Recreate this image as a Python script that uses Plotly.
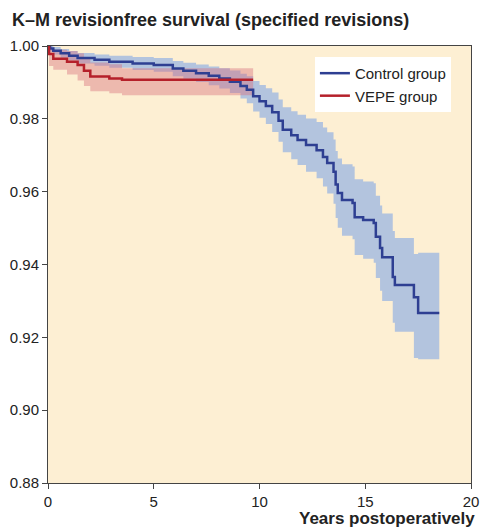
import plotly.graph_objects as go

# Control group (Kaplan-Meier steps)
ctrl_t = [0, 0.1, 0.25, 0.6, 1.0, 1.4, 2.2, 2.9, 4.0, 5.0, 5.9, 6.4, 7.0, 7.6, 8.1, 8.6, 9.1, 9.4, 9.7,
          10.0, 10.3, 10.6, 10.9, 11.1, 11.5, 11.8, 12.2, 12.7, 13.0, 13.2, 13.5, 13.6, 13.7, 13.9,
          14.4, 14.5, 14.9, 15.4, 15.5, 15.7, 15.8, 16.3, 16.4, 17.3, 17.5, 18.5]
ctrl_s = [1.000, 0.9993, 0.9987, 0.9980, 0.9973, 0.9967, 0.9962, 0.9957, 0.9952, 0.9948, 0.9938, 0.9932,
          0.9925, 0.9918, 0.9911, 0.9902, 0.9890, 0.9880, 0.9862, 0.9848, 0.9835, 0.9818, 0.9795, 0.9770,
          0.9755, 0.9742, 0.9728, 0.9714, 0.9695, 0.9679, 0.9655, 0.9620, 0.9596, 0.9577, 0.9569, 0.9530,
          0.9522, 0.9514, 0.9476, 0.9445, 0.9420, 0.9366, 0.9344, 0.9310, 0.9267, 0.9267]
ctrl_lo = [1.000, 0.9985, 0.9977, 0.9968, 0.9960, 0.9952, 0.9946, 0.9940, 0.9934, 0.9929, 0.9917, 0.9910,
           0.9901, 0.9892, 0.9883, 0.9871, 0.9856, 0.9843, 0.9820, 0.9803, 0.9786, 0.9764, 0.9737, 0.9708,
           0.9689, 0.9673, 0.9655, 0.9637, 0.9614, 0.9595, 0.9567, 0.9528, 0.9501, 0.9479, 0.9469, 0.9426,
           0.9416, 0.9405, 0.9363, 0.9328, 0.9300, 0.9240, 0.9215, 0.9143, 0.9140, 0.9140]
ctrl_hi = [1.000, 1.000, 0.9997, 0.9992, 0.9986, 0.9981, 0.9977, 0.9973, 0.9970, 0.9967, 0.9959, 0.9954,
           0.9949, 0.9944, 0.9939, 0.9933, 0.9924, 0.9917, 0.9904, 0.9893, 0.9884, 0.9872, 0.9853, 0.9832,
           0.9821, 0.9811, 0.9801, 0.9791, 0.9776, 0.9763, 0.9743, 0.9712, 0.9691, 0.9675, 0.9669, 0.9634,
           0.9628, 0.9623, 0.9589, 0.9562, 0.9540, 0.9492, 0.9473, 0.9429, 0.9432, 0.9432]

# VEPE group
vepe_t = [0, 0.05, 0.25, 0.9, 1.4, 1.7, 2.0, 2.9, 3.5, 9.7]
vepe_s = [1.000, 0.9978, 0.9965, 0.9957, 0.9948, 0.9932, 0.9916, 0.9911, 0.9907, 0.9907]
vepe_lo = [1.000, 0.9945, 0.9935, 0.9922, 0.9905, 0.9890, 0.9876, 0.9870, 0.9865, 0.9865]
vepe_hi = [1.000, 0.9995, 0.9990, 0.9986, 0.9980, 0.9968, 0.9955, 0.9950, 0.9939, 0.9939]

x_ticks = [0, 5, 10, 15, 20]
y_ticks = [0.88, 0.90, 0.92, 0.94, 0.96, 0.98, 1.00]

BLUE = "#2e3f92"
RED = "#b5202a"
BLUE_FILL = "rgba(118,160,232,0.55)"
RED_FILL = "rgba(215,110,125,0.42)"

fig = go.Figure()

# bands
fig.add_trace(go.Scatter(x=ctrl_t, y=ctrl_lo, mode="lines", line=dict(width=0, shape="hv"),
                         showlegend=False, hoverinfo="skip"))
fig.add_trace(go.Scatter(x=ctrl_t, y=ctrl_hi, mode="lines", line=dict(width=0, shape="hv"),
                         fill="tonexty", fillcolor=BLUE_FILL, showlegend=False, hoverinfo="skip"))
fig.add_trace(go.Scatter(x=vepe_t, y=vepe_lo, mode="lines", line=dict(width=0, shape="hv"),
                         showlegend=False, hoverinfo="skip"))
fig.add_trace(go.Scatter(x=vepe_t, y=vepe_hi, mode="lines", line=dict(width=0, shape="hv"),
                         fill="tonexty", fillcolor=RED_FILL, showlegend=False, hoverinfo="skip"))

# lines
fig.add_trace(go.Scatter(x=ctrl_t, y=ctrl_s, mode="lines", name="Control group",
                         line=dict(color=BLUE, width=2.5, shape="hv")))
fig.add_trace(go.Scatter(x=vepe_t, y=vepe_s, mode="lines", name="VEPE group",
                         line=dict(color=RED, width=2.5, shape="hv")))

FONT = "Liberation Sans, Arial, sans-serif"

fig.update_layout(
    width=480, height=527,
    margin=dict(l=48, r=9, t=46, b=44, autoexpand=False),
    paper_bgcolor="white",
    plot_bgcolor="#fdefd3",
    font=dict(family=FONT, size=15, color="#222222"),
    showlegend=True,
    legend=dict(x=0.631, y=0.975, xanchor="left", yanchor="top", bgcolor="white",
                font=dict(size=15, color="#222222"), tracegroupgap=0, traceorder="normal",
                borderwidth=0),
    xaxis=dict(range=[0, 20], tickvals=x_ticks, ticktext=[str(v) for v in x_ticks],
               automargin=False,
               showgrid=False, zeroline=False, showline=True, linecolor="#444444", linewidth=1,
               mirror=True, ticks="outside", ticklen=5, tickcolor="#444444",
               tickfont=dict(size=15, color="#222222")),
    yaxis=dict(range=[0.88, 1.0], tickvals=y_ticks, ticktext=[f"{v:.2f}" for v in y_ticks],
               automargin=False,
               showgrid=False, zeroline=False, showline=True, linecolor="#444444", linewidth=1,
               mirror=True, ticks="outside", ticklen=5, tickcolor="#444444",
               tickfont=dict(size=15, color="#222222")),
    annotations=[
        dict(text="<b>K\u2013M revisionfree survival (specified revisions)</b>", xref="paper", yref="paper",
             x=-0.09, y=1.0 + 26 / 437, xanchor="left", yanchor="middle", showarrow=False,
             font=dict(size=18, color="#222222", family=FONT)),
        dict(text="<b>Years postoperatively</b>", xref="paper", yref="paper",
             x=(477 - 48) / 423, y=-(518 - 483) / 437, xanchor="right", yanchor="middle",
             showarrow=False, font=dict(size=17, color="#222222", family=FONT)),
    ],
)

# remove the default 8px page margin so the figure sits at the window's top-left corner
fig.write_html("out.html", config={"displayModeBar": False},
               post_script="document.body.style.margin='0';")
